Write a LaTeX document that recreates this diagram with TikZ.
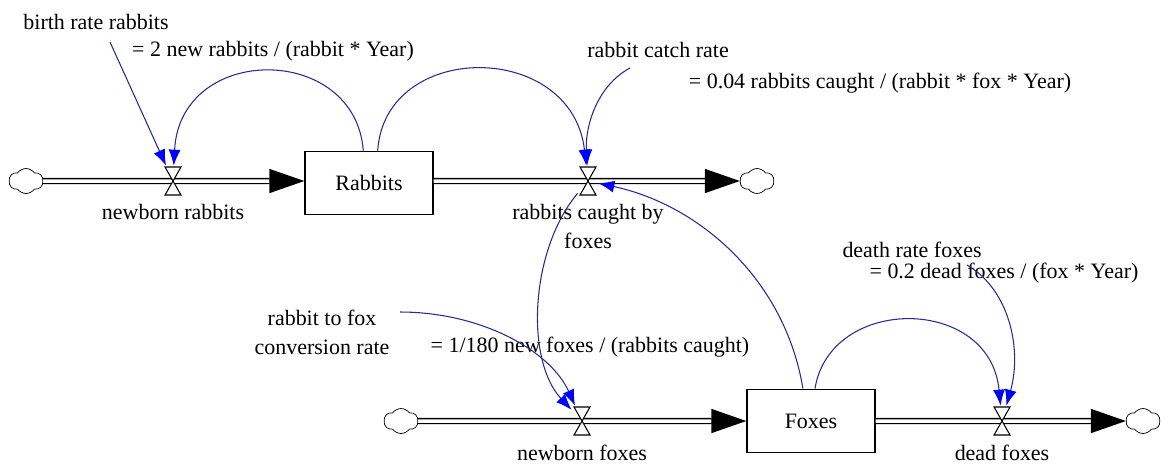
\documentclass[tikz,border=0pt]{standalone}
\usepackage{fontspec}
\setmainfont{Liberation Serif}
\newfontfamily\diagramfont{Liberation Serif}
\usetikzlibrary{positioning, arrows.meta, shapes.symbols}
\definecolor{linkline}{RGB}{40,40,150}
\definecolor{linktip}{RGB}{0,0,255}

\begin{document}
\begin{tikzpicture}[
    x=0.02cm, y=-0.02cm,
    every node/.style={font=\diagramfont\fontsize{12.5}{16.5}\selectfont},
    stock/.style={draw, line width=0.8pt, minimum width=2.56cm, minimum height=1.27cm},
    sink/.style={cloud, draw, cloud puffs=6, cloud puff arc=110, aspect=1.4,
        inner sep=0pt, minimum width=0.68cm, minimum height=0.5cm},
    pipe/.style={double, line width=0.8pt, double distance=2pt,
        -{Triangle[length=0.7cm, width=0.48cm]}},
    valve/.style={minimum width=0.4cm, minimum height=0.6cm, inner sep=0pt,
        path picture={\draw[fill=white, line width=0.6pt]
            ([shift={(-8,-14)}]path picture bounding box.center)
            -- ++(16,0) -- ++(-16,28) -- ++(16,0) -- cycle;}},
    link/.style={linkline, line width=0.6pt,
        -{Latex[length=0.32cm, width=0.24cm, color=linktip]}}
]
\useasboundingbox (0,0) rectangle (1168,464);

% Sources and sinks
\node[sink] (cloudRB) at (26,181) {};
\node[sink] (cloudRC) at (757,181) {};
\node[sink] (cloudFB) at (401,421) {};
\node[sink] (cloudFD) at (1143,421) {};

% Stocks
\node[stock] (rabbits) at (369,183) {Rabbits};
\node[stock] (foxes)   at (811,421) {Foxes};

% Flow pipes
\draw[pipe] (cloudRB) -- (cloudRB -| rabbits.west);
\draw[pipe] (rabbits.east |- cloudRC) -- (cloudRC);
\draw[pipe] (cloudFB) -- (cloudFB -| foxes.west);
\draw[pipe] (foxes.east |- cloudFD) -- (cloudFD);

% Valves on the pipes
\node[valve] (vBorn)    at (173,181) {};
\node[valve] (vCaught)  at (588,181) {};
\node[valve] (vFoxBorn) at (582,421) {};
\node[valve] (vDeath)   at (1002,421) {};

% Flow names
\node[below=0.04cm of vBorn]                  (lbBorn)    {newborn rabbits};
\node[below=0.04cm of vCaught, align=center]  (lbCaught)  {rabbits caught by\\foxes};
\node[below=0.04cm of vFoxBorn]               (lbFoxBorn) {newborn foxes};
\node[below=0.04cm of vDeath]                 (lbDeath)   {dead foxes};

% Constants
\node (birthRate) at (96,22)   {birth rate rabbits};
\node (birthEq)   at (273,51)  {= 2 new rabbits / (rabbit * Year)};
\node (catchRate) at (658,50)  {rabbit catch rate};
\node (catchEq)   at (880,83)  {= 0.04 rabbits caught / (rabbit * fox * Year)};
\node[align=center] (convRate) at (322,332) {rabbit to fox\\conversion rate};
\node (convEq)    at (590,347) {= 1/180 new foxes / (rabbits caught)};
\node (deathRate) at (912,250) {death rate foxes};
\node (deathEq)   at (1004,273) {= 0.2 dead foxes / (fox * Year)};

\coordinate (birthTail) at (110,42);
\coordinate (catchTail) at (630,68);
\coordinate (convTail)  at (400,312);
\coordinate (deathTail) at (967,265);

% Information links
\draw[link] (birthTail) -- (vBorn);
\draw[link] (rabbits.100) .. controls (355,43) and (180,43) .. (vBorn);
\draw[link] (rabbits.75) .. controls (385,40) and (572,40) .. (vCaught);
\draw[link] (catchTail) .. controls (598,85) and (585,125) .. (vCaught);
\draw[link] (foxes.104) .. controls (785,280) and (700,205) .. (vCaught);
\draw[link] (vCaught) .. controls (530,250) and (525,360) .. (vFoxBorn);
\draw[link] (convTail) .. controls (480,312) and (550,350) .. (vFoxBorn);
\draw[link] (foxes.83) .. controls (830,295) and (990,295) .. (vDeath);
\draw[link] (deathTail) .. controls (1010,290) and (1022,350) .. (vDeath);

\end{tikzpicture}
\end{document}
